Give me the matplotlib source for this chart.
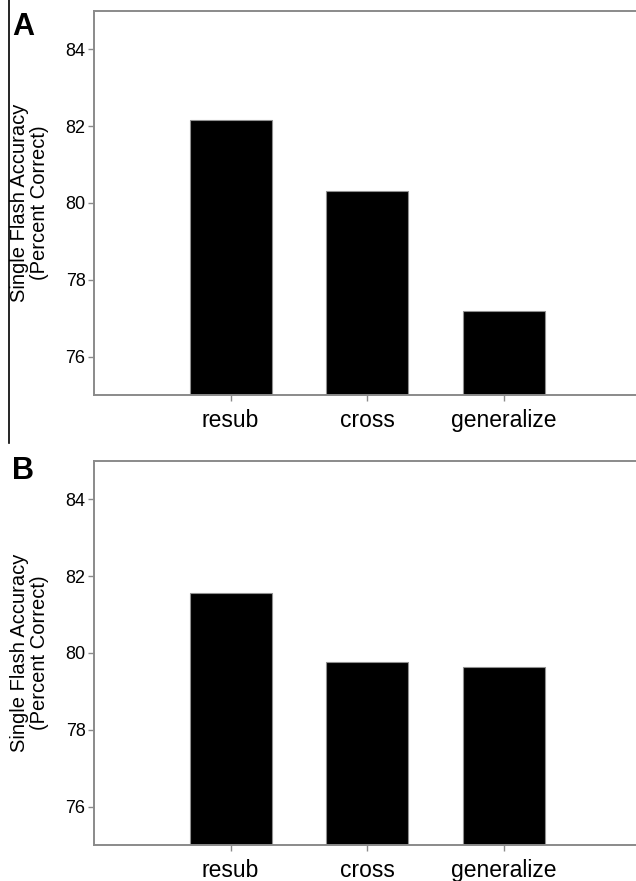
import numpy as np
import matplotlib
matplotlib.use("Agg")
import matplotlib.pyplot as plt
from matplotlib.lines import Line2D

plt.rcParams['font.family'] = ['Liberation Sans', 'DejaVu Sans']

# ---------------- data ----------------
categories = ["resub", "cross", "generalize"]
accuracy_a = [82.15, 80.31, 77.2]
accuracy_b = [81.57, 79.77, 79.63]
yticks = [76, 78, 80, 82, 84]
ylabel = "Single Flash Accuracy\n(Percent Correct)"

W, H = 636, 881
fig = plt.figure(figsize=(W / 100, H / 100), dpi=100)

spine_col = "#8a8a8a"


def panel(bottom_px, values, letter, letter_y):
    ax = fig.add_axes([93.9 / W, 1 - bottom_px / H, 547 / W, 384 / H])
    x = np.arange(1, len(categories) + 1)
    ax.bar(x, values, width=0.6, bottom=0, color="black",
           edgecolor="#909090", linewidth=0.8, zorder=2)
    ax.set_xlim(0, 4)
    ax.set_ylim(75, 85)
    ax.set_yticks(yticks)
    ax.set_xticks(x)
    ax.set_xticklabels(categories, fontsize=16.5)
    ax.tick_params(axis="y", labelsize=13, length=4, width=1,
                   color=spine_col, pad=2)
    ax.tick_params(axis="x", length=4, width=1, color=spine_col, pad=6)
    for side in ["left", "bottom", "top"]:
        ax.spines[side].set_color(spine_col)
        ax.spines[side].set_linewidth(1.4)
    ax.spines["right"].set_visible(False)
    ax.set_ylabel(ylabel, fontsize=14.5, linespacing=1.1)
    ax.yaxis.set_label_coords(-0.082, 0.5)
    fig.text(12 / W, 1 - letter_y / H, letter, fontsize=22,
             fontweight="bold", va="top", ha="left")
    return ax


panel(395, accuracy_a, "A", 12)
panel(845, accuracy_b, "B", 456)

# crop line left over from the original figure layout
fig.add_artist(Line2D([8.5 / W, 8.5 / W], [1, 1 - 443 / H],
                      color="black", linewidth=1.2))

fig.savefig("out.png", dpi=100, facecolor="white")
